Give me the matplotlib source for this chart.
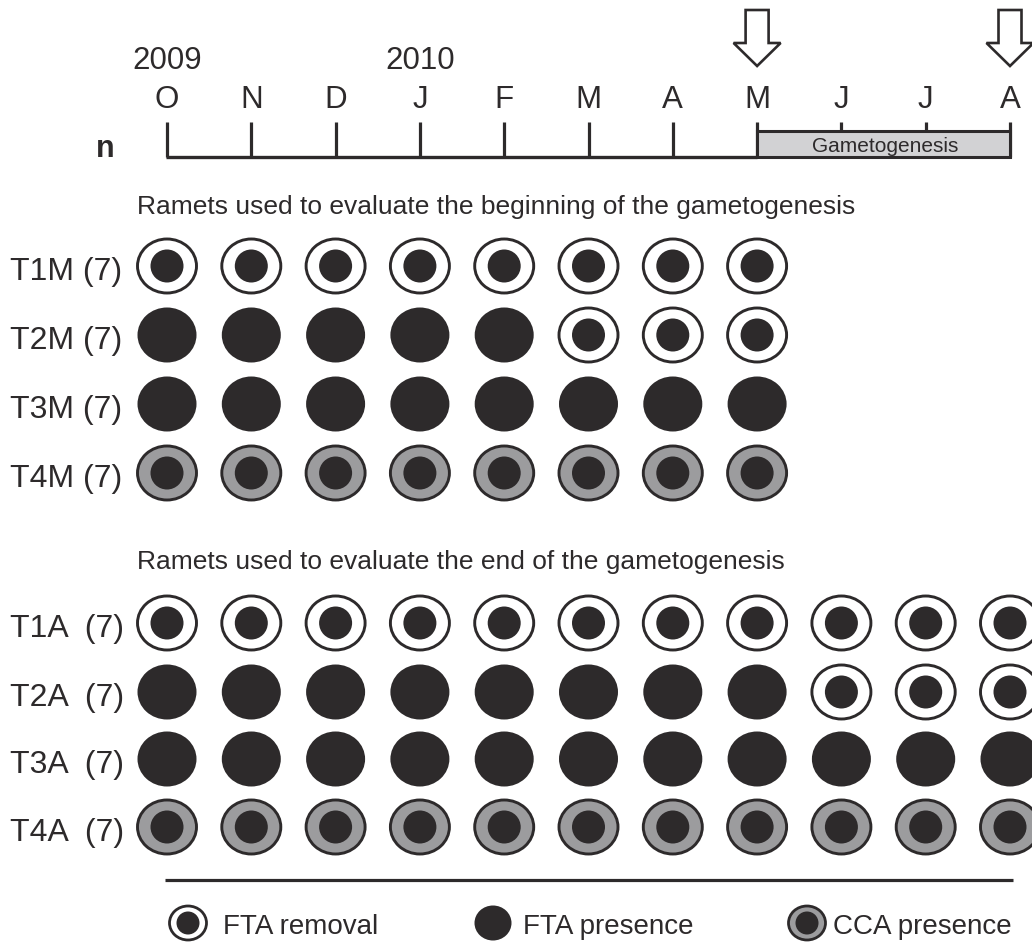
import matplotlib
matplotlib.use("Agg")
import matplotlib.pyplot as plt
from matplotlib.patches import Ellipse, Polygon, Rectangle

# ---------------- data ----------------
months = ['O', 'N', 'D', 'J', 'F', 'M', 'A', 'M', 'J', 'J', 'A']
year_labels = ['2009', '2010']
year_month_idx = [0, 3]
arrow_month_idx = [7, 10]
gameto_start, gameto_end = 7, 10
gameto_label = 'Gametogenesis'

title_begin = 'Ramets used to evaluate the beginning of the gametogenesis'
title_end = 'Ramets used to evaluate the end of the gametogenesis'

labels_M = ['T1M (7)', 'T2M (7)', 'T3M (7)', 'T4M (7)']
states_M = [
    ['R'] * 8,
    ['P'] * 5 + ['R'] * 3,
    ['P'] * 8,
    ['C'] * 8,
]
labels_A = ['T1A  (7)', 'T2A  (7)', 'T3A  (7)', 'T4A  (7)']
states_A = [
    ['R'] * 11,
    ['P'] * 8 + ['R'] * 3,
    ['P'] * 11,
    ['C'] * 11,
]
legend_items = [('R', 'FTA removal'), ('P', 'FTA presence'), ('C', 'CCA presence')]

# ---------------- style ----------------
DARK = '#2d2a2b'
GREY = '#9c9c9e'
BOXGREY = '#d2d2d4'
FONT = 'Liberation Sans'

W, H = 1032, 943
fig = plt.figure(figsize=(W / 100, H / 100), dpi=100)
ax = fig.add_axes([0, 0, 1, 1])
ax.set_xlim(0, W)
ax.set_ylim(H, 0)
ax.axis('off')

x0, dx = 167, 84.3
def mx(i):
    return x0 + dx * i

def marker(cx, cy, kind, ow=62, oh=57, inner=33, lw=2.1):
    if kind == 'P':
        ax.add_patch(Ellipse((cx, cy), ow - 3, oh - 2, facecolor=DARK, edgecolor='none'))
    else:
        fc = 'white' if kind == 'R' else GREY
        ax.add_patch(Ellipse((cx, cy), ow - 3, oh - 3, facecolor=fc, edgecolor=DARK, lw=lw))
        ax.add_patch(Ellipse((cx, cy), inner, inner, facecolor=DARK, edgecolor='none'))

# ---------------- timeline ----------------
tick_top, base_y, box_top = 122, 157, 131
for i, m in enumerate(months):
    ax.text(mx(i), 108, m, fontsize=22.5, family=FONT, color=DARK, ha='center', va='baseline')
    ax.plot([mx(i), mx(i)], [tick_top, base_y], color=DARK, lw=2.3, solid_capstyle='butt')
for lab, idx in zip(year_labels, year_month_idx):
    ax.text(mx(idx), 69, lab, fontsize=22.5, family=FONT, color=DARK, ha='center', va='baseline')
ax.plot([mx(0) - 1, mx(gameto_start)], [base_y, base_y], color=DARK, lw=2.4, solid_capstyle='butt')
ax.add_patch(Rectangle((mx(gameto_start), box_top), mx(gameto_end) - mx(gameto_start), base_y - box_top,
                       facecolor=BOXGREY, edgecolor=DARK, lw=2.2, zorder=3))
ax.text((mx(gameto_start) + mx(gameto_end)) / 2 + 2, 152, gameto_label, fontsize=15, family=FONT,
        color=DARK, ha='center', va='baseline', zorder=4)
ax.text(105, 157, 'n', fontsize=22, family=FONT, weight='bold', color=DARK, ha='center', va='baseline')

for idx in arrow_month_idx:
    cx = mx(idx)
    sw, hw = 11.5, 23.5
    verts = [(cx - sw, 10), (cx + sw, 10), (cx + sw, 43), (cx + hw, 43), (cx, 66),
             (cx - hw, 43), (cx - sw, 43)]
    ax.add_patch(Polygon(verts, closed=True, facecolor='white', edgecolor=DARK, lw=1.9, joinstyle='miter'))

# ---------------- rows ----------------
ax.text(137, 214, title_begin, fontsize=19, family=FONT, color=DARK, ha='left', va='baseline')
ax.text(137, 569, title_end, fontsize=19, family=FONT, color=DARK, ha='left', va='baseline')

rows_y_M = [266, 335, 404, 473]
rows_y_A = [623, 692, 759, 827]
for labels, states, ys in [(labels_M, states_M, rows_y_M), (labels_A, states_A, rows_y_A)]:
    for lab, st, y in zip(labels, states, ys):
        ax.text(10, y + 14, lab, fontsize=23, family=FONT, color=DARK, ha='left', va='baseline')
        for i, k in enumerate(st):
            marker(mx(i), y, k)

# ---------------- legend ----------------
ax.plot([165, 1013], [880, 880], color=DARK, lw=2.3, solid_capstyle='butt')
leg_icon_x = [188, 493, 807]
leg_text_x = [223, 523, 833]
for (k, lab), ix, tx in zip(legend_items, leg_icon_x, leg_text_x):
    marker(ix, 923, k, ow=40, oh=37, inner=23, lw=2.0)
    ax.text(tx, 934, lab, fontsize=20, family=FONT, color=DARK, ha='left', va='baseline')

fig.savefig('out.png', dpi=100)
